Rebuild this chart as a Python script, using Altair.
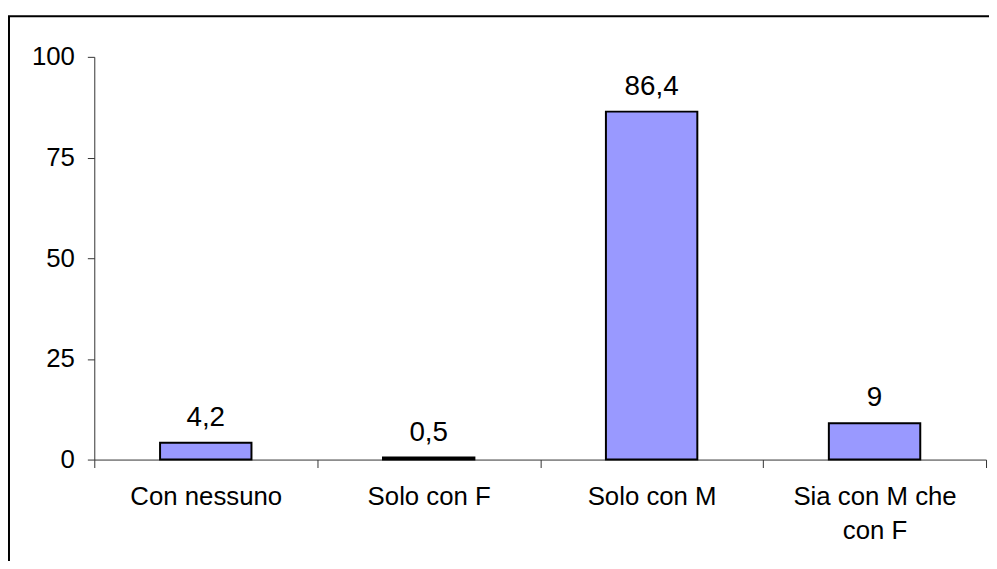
import altair as alt
import pandas as pd

categories = ["Con nessuno", "Solo con F", "Solo con M", "Sia con M che con F"]
values = [4.2, 0.5, 86.4, 9.0]
value_labels = ["4,2", "0,5", "86,4", "9"]
y_ticks = [0, 25, 50, 75, 100]

df = pd.DataFrame({"cat": categories, "val": values, "lab": value_labels})

FONT = "Liberation Sans"

x_enc = alt.X(
    "cat:N",
    sort=categories,
    scale=alt.Scale(paddingInner=0, paddingOuter=0),
    axis=alt.Axis(
        title=None,
        labelAngle=0,
        tickBand="extent",
        tickSize=8,
        tickColor="#333333",
        domainColor="#333333",
        labelColor="black",
        labelFont=FONT,
        labelFontSize=26,
        labelPadding=16,
        labelLineHeight=35,
        labelBaseline="top",
        labelExpr="datum.label == 'Sia con M che con F' ? ['Sia con M che', 'con F'] : datum.label",
    ),
)
y_enc = alt.Y(
    "val:Q",
    scale=alt.Scale(domain=[0, 100], nice=False),
    axis=alt.Axis(
        title=None,
        values=y_ticks,
        grid=False,
        tickSize=7,
        tickColor="#333333",
        domainColor="#333333",
        labelColor="black",
        labelFont=FONT,
        labelFontSize=26,
        labelPadding=13,
    ),
)

base = alt.Chart(df)
bars = base.mark_bar(
    width=alt.RelativeBandSize(0.41),
    color="#9999FF",
    stroke="black",
    strokeWidth=2,
).encode(x=x_enc, y=y_enc)

texts = base.mark_text(
    font=FONT, fontSize=28, baseline="alphabetic", dy=-17, color="black"
).encode(x=alt.X("cat:N", sort=categories), y="val:Q", text="lab:N")

frame = alt.Chart(pd.DataFrame({"f": [0]})).mark_rect(
    fillOpacity=0, stroke="black", strokeWidth=2
).encode(
    x=alt.value(-86), x2=alt.value(940), y=alt.value(-41), y2=alt.value(600)
)

chart = (
    alt.layer(bars, texts, frame)
    .properties(
        width=899,
        height=406,
        padding={"left": 87, "top": 47, "right": 3, "bottom": 100},
        autosize=alt.AutoSizeParams(type="none"),
        background="white",
    )
    .configure_view(stroke=None)
)

chart.save("out.html", embed_options={"renderer": "svg", "actions": False})
